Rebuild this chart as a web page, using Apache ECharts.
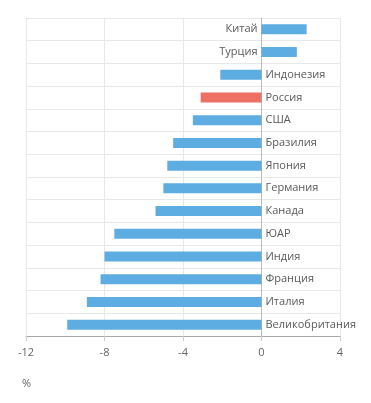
<!DOCTYPE html>
<html><head><meta charset="utf-8">
<script src="https://cdn.jsdelivr.net/npm/echarts@6/dist/echarts.min.js"></script>
<style>html,body{margin:0;padding:0;background:#fff}#c{width:371px;height:403px}</style>
</head><body><div id="c"></div>
<script>
const categories = ['Китай','Турция','Индонезия','Россия','США','Бразилия','Япония','Германия','Канада','ЮАР','Индия','Франция','Италия','Великобритания'];
const values = [2.3, 1.8, -2.1, -3.1, -3.5, -4.5, -4.8, -5.0, -5.4, -7.5, -8.0, -8.2, -8.9, -9.9];
const highlighted = ['Россия'];
const xTicks = [-12, -8, -4, 0, 4];
const unitLabel = '%';

const FONT = 'Open Sans';
const chart = echarts.init(document.getElementById('c'), null, {renderer:'canvas'});
chart.setOption({
  animation: false,
  title: {text: unitLabel, left: 17, top: 373, textStyle: {fontFamily: FONT, fontSize: 11, fontWeight: 'normal', color: '#666'}},
  grid: {left: 26, right: 31, top: 18, bottom: 67, containLabel: false},
  xAxis: {
    type: 'value', min: xTicks[0], max: xTicks[xTicks.length-1], interval: 4,
    axisLine: {show: true, onZero: false, lineStyle: {color: '#aaa'}},
    axisTick: {show: true, length: 5, lineStyle: {color: '#ccc'}},
    splitLine: {show: true, lineStyle: {color: '#e8e8e8'}},
    axisLabel: {fontFamily: FONT, fontSize: 11, color: '#666', margin: 11}
  },
  yAxis: {
    type: 'category', data: categories, inverse: true,
    axisLine: {show: true, onZero: true, lineStyle: {color: '#bbb'}},
    axisTick: {show: false}, axisLabel: {show: false},
    splitLine: {show: true, lineStyle: {color: '#e8e8e8'}}
  },
  series: [{
    type: 'bar', barWidth: 10,
    data: values.map((v, i) => ({
      value: v,
      itemStyle: {color: highlighted.includes(categories[i]) ? '#EE6F63' : '#5DACE2'},
      label: {show: true, position: v >= 0 ? 'left' : 'right', distance: 4,
        formatter: categories[i], fontFamily: FONT, fontSize: 11, color: '#5a5a5a'}
    }))
  }]
});
</script></body></html>
